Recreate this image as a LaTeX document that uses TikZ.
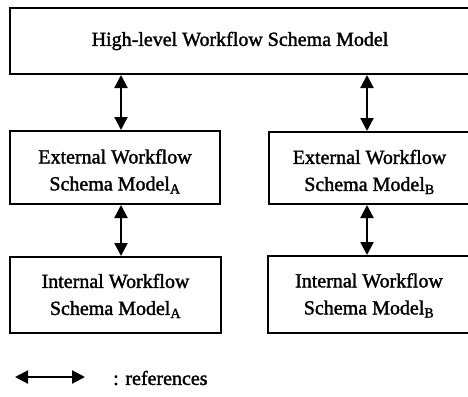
\documentclass[tikz,border=0pt]{standalone}
\usepackage{fontspec}
\setmainfont[FakeBold=1.6]{Liberation Serif}
\usetikzlibrary{arrows.meta}
\newcommand\tklines[3]{\raisebox{#1}[\height][\depth]{\begin{tabular}{@{}c@{}}#2\\#3\end{tabular}}}
\begin{document}
\begin{tikzpicture}[x=1pt,y=-1pt,
  box/.style={draw,line width=2pt,rectangle,inner sep=0pt,
    font=\fontsize{20}{27}\selectfont},
  ref/.style={line width=2.2pt,
    {Triangle[width=13pt,length=13pt]}-{Triangle[width=13pt,length=13pt]}},
  lbl/.style={inner sep=0pt,font=\fontsize{20}{24}\selectfont}
]
\fill[white] (0,0) rectangle (468,396);
\useasboundingbox (0,0) rectangle (468,396);
\clip (0,0) rectangle (468,396);
\node[box,minimum width=460pt,minimum height=66pt] (top) at (240,41)
  {High-level Workflow Schema Model};
\node[box,minimum width=210pt,minimum height=73pt] (lext) at (115,167.5)
  {\tklines{-4pt}{External Workflow}{Schema Model\textsubscript{A}}};
\node[box,minimum width=201pt,minimum height=72pt] (rext) at (369.5,168)
  {\tklines{-4pt}{External Workflow}{Schema Model\textsubscript{B}}};
\node[box,minimum width=211pt,minimum height=76pt] (lint) at (115.5,295)
  {\tklines{-1pt}{Internal Workflow}{Schema Model\textsubscript{A}}};
\node[box,minimum width=202pt,minimum height=77pt] (rint) at (369,294.5)
  {\tklines{-1pt}{Internal Workflow}{Schema Model\textsubscript{B}}};
\coordinate (aL) at (121,0);
\coordinate (aR) at (367,0);
\draw[ref] (top.south -| aL) -- (lext.north -| aL);
\draw[ref] (top.south -| aR) -- (rext.north -| aR);
\draw[ref] (lext.south -| aL) -- (lint.north -| aL);
\draw[ref] (rext.south -| aR) -- (rint.north -| aR);
\coordinate (k1) at (15,377);
\coordinate (k2) at (85,377);
\draw[ref] (k1) -- (k2);
\node[lbl,anchor=west] (klbl) at (113,378) {: references};
\end{tikzpicture}
\end{document}
